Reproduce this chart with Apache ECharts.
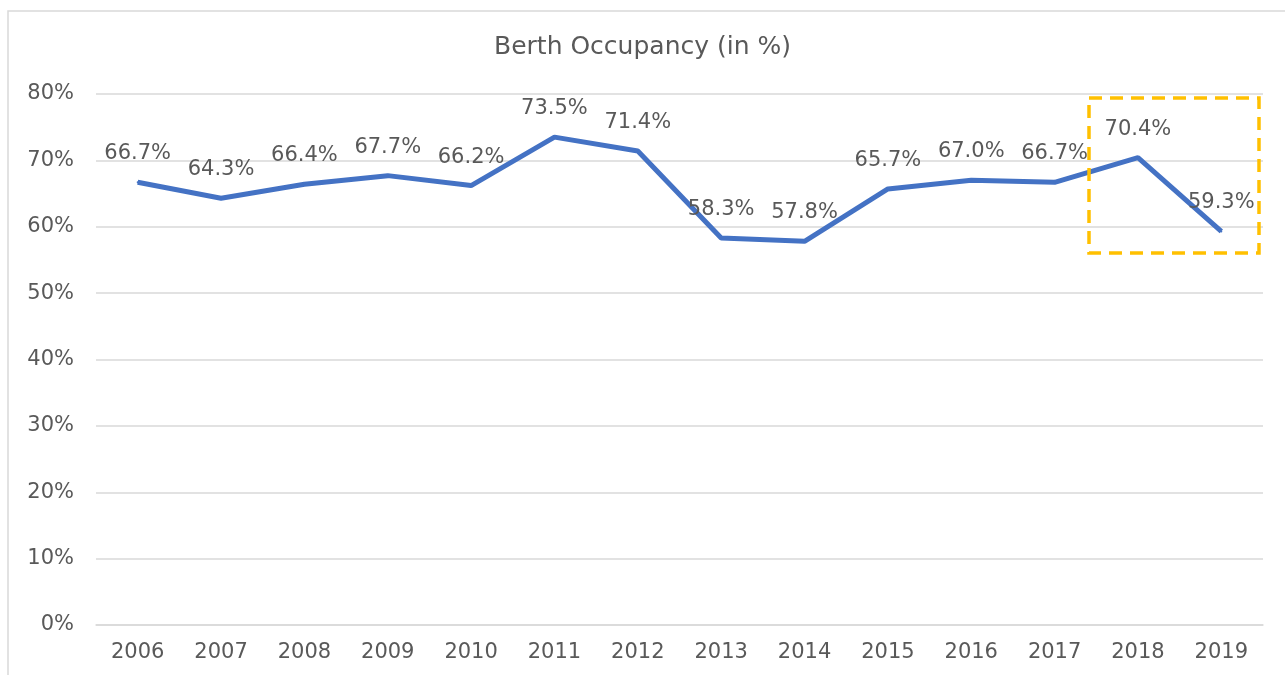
<!DOCTYPE html>
<html>
<head>
<meta charset="utf-8">
<script src="https://cdn.jsdelivr.net/npm/echarts@6/dist/echarts.min.js"></script>
<style>
    html,body{margin:0;padding:0;background:#fff;}
    #chart{width:1285px;height:675px;}
</style>
</head>
<body>
<div id="chart"></div>
<script>
    // 数据
    var years = ['2006','2007','2008','2009','2010','2011','2012','2013','2014','2015','2016','2017','2018','2019'];
    var occupancy = [66.7, 64.3, 66.4, 67.7, 66.2, 73.5, 71.4, 58.3, 57.8, 65.7, 67.0, 66.7, 70.4, 59.3];
    var yTicks = [0, 10, 20, 30, 40, 50, 60, 70, 80];

    var textColor = '#595959';
    var font = 'DejaVu Sans';

    var myChart = echarts.init(document.getElementById('chart'));
    myChart.setOption({
        animation: false,
        backgroundColor: '#fff',
        textStyle: {fontFamily: font},
        title: {
            text: 'Berth Occupancy (in %)',
            left: 'center',
            top: 30,
            textStyle: {color: textColor, fontFamily: font, fontSize: 25, fontWeight: 'normal'}
        },
        grid: {left: 96, right: 22, top: 94, bottom: 50},
        xAxis: {
            type: 'category',
            data: years,
            boundaryGap: true,
            axisLine: {show: true, lineStyle: {color: '#d9d9d9', width: 1.5}},
            axisTick: {show: false},
            axisLabel: {color: textColor, fontFamily: font, fontSize: 21, margin: 17}
        },
        yAxis: {
            type: 'value',
            min: yTicks[0],
            max: yTicks[yTicks.length - 1],
            interval: 10,
            axisLine: {show: false},
            axisTick: {show: false},
            splitLine: {lineStyle: {color: '#d9d9d9', width: 1.5}},
            axisLabel: {color: textColor, fontFamily: font, fontSize: 21, margin: 22, padding: [3, 0, 0, 0], formatter: '{value}%'}
        },
        series: [{
            type: 'line',
            data: occupancy,
            symbol: 'circle',
            symbolSize: 2,
            showSymbol: true,
            itemStyle: {color: '#4472C4'},
            lineStyle: {color: '#4472C4', width: 5},
            label: {
                show: true,
                position: 'top',
                distance: 17,
                color: textColor,
                fontFamily: font,
                fontSize: 21,
                formatter: function (p) {
                    return Number(p.value).toFixed(1) + '%';
                }
            },
            z: 5
        }],
        graphic: [
            {
                type: 'rect',
                shape: {x: 8, y: 11, width: 1300, height: 700},
                style: {fill: null, stroke: '#d9d9d9', lineWidth: 1.5},
                silent: true
            },
            {
                type: 'rect',
                shape: {x: 1089, y: 98, width: 170, height: 155},
                style: {fill: null, stroke: '#FFC000', lineWidth: 3.5, lineDash: [13, 8]},
                silent: true,
                z: 100
            }
        ]
    });
</script>
</body>
</html>
